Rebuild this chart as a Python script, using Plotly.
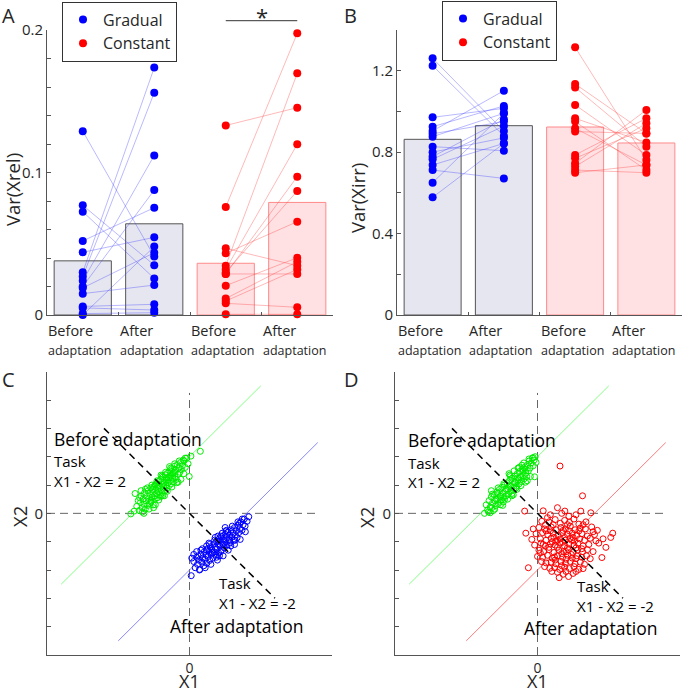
import plotly.graph_objects as go

# ---------------- data: panels A and B ----------------
categories = [1, 2, 3, 4]
cat_top = ["Before", "After", "Before", "After"]
cat_bottom = ["adaptation", "adaptation", "adaptation", "adaptation"]

# Var(Xrel)
grad_before_A = [0.129, 0.077, 0.0725, 0.052, 0.044, 0.030, 0.027, 0.024, 0.020, 0.019, 0.015, 0.006, 0.005, 0.001, 0.000]
grad_after_A = [0.041, 0.035, 0.0257, 0.0753, 0.0545, 0.1736, 0.156, 0.112, 0.0877, 0.0437, 0.021, 0.0075, 0.0035, 0.0016, 0.048]
const_before_A = [0.133, 0.0758, 0.0468, 0.0433, 0.0346, 0.032, 0.0288, 0.030, 0.0206, 0.0115, 0.0098, 0.0082, 0.0005, 0.0288]
const_after_A = [0.1455, 0.1977, 0.0346, 0.0655, 0.1696, 0.1198, 0.0971, 0.087, 0.0402, 0.0374, 0.0320, 0.0054, 0.0005, 0.0288]
bar_A = [0.038, 0.064, 0.0363, 0.079]

# Var(Xirr)
grad_before_B = [1.261, 1.225, 0.971, 0.925, 0.904, 0.876, 0.827, 0.778, 0.765, 0.737, 0.712, 0.650, 0.578, 0.890, 0.800]
grad_after_B = [0.904, 0.879, 1.015, 1.027, 1.102, 0.991, 0.807, 0.961, 0.928, 0.843, 0.671, 0.991, 0.843, 0.950, 0.870]
const_before_B = [1.315, 1.135, 1.118, 1.032, 0.966, 0.950, 0.917, 0.901, 0.786, 0.770, 0.745, 0.729, 0.712, 0.699]
const_after_B = [0.761, 0.892, 0.827, 0.786, 0.847, 0.712, 0.737, 0.892, 0.966, 0.917, 1.007, 0.942, 0.699, 0.737]
bar_B = [0.863, 0.930, 0.9235, 0.845]

# ---------------- data: panels C and D ----------------
green_C = [(-2.06, -0.02), (-1.94, 0.08), (-1.91, 0.70), (-1.85, 0.25), (-1.80, 0.45), (-1.76, 0.10), (-1.72, 0.38),
           (-1.70, 0.62), (-1.66, 0.20), (-1.63, 0.50), (-1.60, 0.32), (-1.58, 0.72), (-1.55, 0.15), (-1.52, 0.44),
           (-1.50, 0.60), (-1.47, 0.28), (-1.45, 0.80), (-1.43, 0.52), (-1.40, 0.36), (-1.38, 0.66), (-1.36, 0.90),
           (-1.34, 0.45), (-1.31, 0.58), (-1.29, 0.74), (-1.27, 0.30), (-1.25, 0.95), (-1.23, 0.62), (-1.21, 0.50),
           (-1.19, 0.82), (-1.17, 1.05), (-1.15, 0.70), (-1.13, 0.55), (-1.11, 0.88), (-1.09, 1.12), (-1.07, 0.76),
           (-1.05, 0.98), (-1.03, 0.64), (-1.01, 1.20), (-0.99, 0.85), (-0.97, 1.02), (-0.95, 0.72), (-0.93, 1.28),
           (-0.91, 0.94), (-0.89, 1.10), (-0.87, 0.80), (-0.85, 1.36), (-0.83, 1.00), (-0.81, 1.18), (-0.79, 0.90),
           (-0.77, 1.42), (-0.75, 1.08), (-0.73, 1.26), (-0.71, 0.98), (-0.69, 1.50), (-0.67, 1.16), (-0.65, 1.34),
           (-0.63, 1.05), (-0.61, 1.58), (-0.59, 1.24), (-0.57, 1.44), (-0.55, 1.12), (-0.53, 1.66), (-0.51, 1.30),
           (-0.49, 1.52), (-0.46, 1.20), (-0.43, 1.72), (-0.40, 1.38), (-0.37, 1.60), (-0.34, 1.45), (-0.31, 1.80),
           (-0.28, 1.55), (-0.25, 1.68), (-0.22, 1.88), (-0.19, 1.85), (-0.15, 1.62), (-0.10, 1.95), (-0.05, 1.75),
           (-0.01, 1.30), (0.05, 2.02), (0.38, 2.19), (-1.20, 1.00), (-1.00, 0.60), (-0.80, 1.25), (-1.35, 0.40),
           (-0.60, 1.40), (-1.10, 0.95), (-0.90, 1.05), (-0.70, 1.30), (-1.30, 0.85), (-0.50, 1.45),
           (-1.75, 0.55), (-1.65, 0.05), (-1.48, 0.90), (-1.42, 0.15), (-1.32, 1.00), (-1.26, 0.20), (-1.14, 1.15),
           (-1.08, 0.47), (-0.96, 1.32), (-0.94, 0.62), (-0.84, 1.45), (-0.78, 0.78), (-0.66, 1.60), (-0.62, 0.93),
           (-0.52, 1.75), (-0.45, 1.08), (-0.36, 1.85), (-0.30, 1.20), (-0.20, 1.40), (-1.55, 0.85), (-1.70, 0.80),
           (-1.00, 1.35), (-0.70, 1.65), (-1.20, 0.30), (-0.88, 0.62), (-0.40, 1.10), (-1.60, 0.00), (-0.15, 1.95)]

blue_C = [(0.06, -2.20), (0.08, -1.58), (0.15, -1.70), (0.20, -1.92), (0.25, -1.55), (0.28, -1.80), (0.32, -1.65),
          (0.36, -1.98), (0.40, -1.45), (0.43, -1.72), (0.46, -1.58), (0.50, -1.85), (0.52, -1.35), (0.55, -1.62),
          (0.58, -1.48), (0.61, -1.76), (0.63, -1.25), (0.66, -1.52), (0.69, -1.38), (0.71, -1.66), (0.74, -1.18),
          (0.77, -1.44), (0.79, -1.30), (0.82, -1.58), (0.85, -1.08), (0.87, -1.36), (0.90, -1.20), (0.92, -1.48),
          (0.95, -0.98), (0.97, -1.26), (1.00, -1.10), (1.02, -1.40), (1.04, -0.90), (1.07, -1.16), (1.09, -1.02),
          (1.12, -1.30), (1.14, -0.82), (1.17, -1.08), (1.19, -0.94), (1.22, -1.22), (1.25, -0.74), (1.27, -1.00),
          (1.30, -0.86), (1.32, -1.12), (1.35, -0.66), (1.38, -0.92), (1.40, -0.78), (1.43, -1.04), (1.46, -0.58),
          (1.49, -0.84), (1.52, -0.70), (1.55, -0.95), (1.58, -0.50), (1.61, -0.76), (1.64, -0.62), (1.67, -0.86),
          (1.70, -0.42), (1.73, -0.68), (1.76, -0.54), (1.80, -0.30), (1.84, -0.60), (1.88, -0.40), (1.92, -0.20),
          (1.96, -0.65), (2.02, -0.28), (2.08, -0.12), (0.90, -0.85), (1.10, -1.35), (0.70, -1.10), (1.30, -0.60),
          (1.00, -0.80), (0.80, -1.40), (1.20, -1.10), (0.60, -1.30), (1.40, -0.95), (1.15, -0.70), (0.95, -1.55),
          (1.60, -0.95), (0.40, -1.30), (1.75, -0.35),
          (0.25, -1.35), (0.35, -2.00), (0.45, -1.25), (0.55, -1.92), (0.68, -1.05), (0.75, -1.80), (0.88, -0.95),
          (0.98, -1.65), (1.10, -0.80), (1.18, -1.50), (1.28, -0.62), (1.36, -1.30), (1.50, -0.45), (1.58, -1.10),
          (1.70, -0.30), (1.78, -0.92), (1.85, -0.20), (1.95, -0.45), (0.30, -1.50), (0.60, -1.15), (1.05, -1.50),
          (1.45, -1.15), (0.15, -1.45), (1.25, -0.50)]

green_D = [(-1.86, 0.00), (-1.80, 0.30), (-1.75, 0.12), (-1.70, 0.45), (-1.66, 0.22), (-1.62, 0.58), (-1.58, 0.36),
           (-1.55, 0.10), (-1.52, 0.66), (-1.49, 0.44), (-1.46, 0.28), (-1.43, 0.75), (-1.40, 0.52), (-1.37, 0.35),
           (-1.34, 0.84), (-1.31, 0.60), (-1.28, 0.46), (-1.25, 0.92), (-1.22, 0.70), (-1.19, 0.55), (-1.16, 1.00),
           (-1.13, 0.78), (-1.10, 0.62), (-1.07, 1.08), (-1.04, 0.86), (-1.01, 0.70), (-0.98, 1.16), (-0.95, 0.94),
           (-0.92, 0.80), (-0.89, 1.24), (-0.86, 1.02), (-0.83, 0.88), (-0.80, 1.32), (-0.77, 1.10), (-0.74, 0.96),
           (-0.71, 1.40), (-0.68, 1.18), (-0.65, 1.04), (-0.62, 1.48), (-0.59, 1.26), (-0.56, 1.12), (-0.53, 1.56),
           (-0.50, 1.34), (-0.47, 1.22), (-0.44, 1.64), (-0.41, 1.42), (-0.38, 1.30), (-0.35, 1.72), (-0.32, 1.50),
           (-0.29, 1.85), (-0.26, 1.60), (-0.22, 1.78), (-0.18, 1.95), (-0.15, 1.68), (-0.12, 1.88), (-0.10, 1.29),
           (-0.08, 2.00), (-0.05, 1.80), (-0.15, 1.97), (-1.20, 0.40), (-1.00, 1.00), (-0.80, 1.10), (-1.40, 0.70),
           (-0.60, 1.30), (-1.10, 0.85), (-0.90, 0.70), (-0.70, 1.25), (-1.30, 0.60), (-0.50, 1.50), (-1.60, 0.20),
           (-0.95, 1.30), (-1.15, 0.50), (-0.40, 1.55), (-1.45, 0.50), (-0.75, 0.90), (-0.55, 1.70),
           (-1.72, 0.05), (-1.58, 0.68), (-1.50, 0.15), (-1.38, 0.90), (-1.30, 0.30), (-1.18, 1.05), (-1.05, 0.50),
           (-0.97, 1.35), (-0.90, 0.62), (-0.82, 1.50), (-0.72, 0.85), (-0.64, 1.62), (-0.58, 0.98), (-0.48, 1.78),
           (-0.42, 1.10), (-0.30, 1.92), (-0.25, 1.30), (-1.62, 0.80), (-1.00, 1.40), (-0.68, 1.60), (-1.22, 0.28),
           (-0.85, 0.65), (-0.36, 1.15), (-1.66, 0.02)]

red_D = [(0.20, 0.09), (0.70, 0.20), (0.96, 0.08), (1.52, 0.08), (1.87, 0.02), (-0.45, 0.08), (0.45, -0.05),
         (1.10, -0.10), (0.85, 0.00), (0.79, 1.67), (1.58, 0.62),
         (0.15, -0.28), (0.40, -0.30), (0.62, -0.22), (0.80, -0.35), (0.95, -0.25), (1.12, -0.32), (1.28, -0.20),
         (1.45, -0.38), (1.70, -0.30), (0.28, -0.40),
         (0.05, -0.50), (0.25, -0.55), (0.48, -0.48), (0.66, -0.58), (0.82, -0.50), (0.98, -0.55), (1.15, -0.45),
         (1.32, -0.58), (1.50, -0.52), (1.68, -0.55), (1.90, -0.48), (2.10, -0.60),
         (-0.41, -0.70), (-0.05, -0.72), (0.18, -0.68), (0.36, -0.75), (0.55, -0.70), (0.72, -0.78), (0.88, -0.68),
         (1.05, -0.74), (1.22, -0.70), (1.38, -0.78), (1.55, -0.72), (1.75, -0.80), (2.00, -0.75), (2.64, -0.70),
         (2.57, -0.85), (0.45, -0.62), (1.12, -0.62), (0.95, -0.85),
         (-0.20, -0.92), (0.10, -0.90), (0.30, -0.95), (0.48, -0.88), (0.65, -0.98), (0.80, -0.90), (0.98, -0.95),
         (1.15, -0.88), (1.30, -0.98), (1.48, -0.90), (1.65, -0.95), (1.85, -0.88), (2.05, -0.97), (0.58, -0.85),
         (1.25, -0.85), (0.88, -1.02),
         (-0.10, -1.12), (0.12, -1.05), (0.28, -1.15), (0.45, -1.08), (0.62, -1.12), (0.78, -1.05), (0.95, -1.15),
         (1.10, -1.08), (1.28, -1.12), (1.42, -1.05), (1.60, -1.15), (1.80, -1.10), (2.15, -1.05), (0.70, -1.20),
         (1.05, -1.22), (1.35, -1.22), (0.52, -1.00),
         (0.05, -1.30), (0.22, -1.35), (0.40, -1.28), (0.58, -1.38), (0.75, -1.30), (0.92, -1.35), (1.08, -1.28),
         (1.25, -1.38), (1.40, -1.30), (1.58, -1.35), (1.75, -1.28), (1.95, -1.35), (0.85, -1.42), (1.18, -1.45),
         (0.00, -1.52), (0.18, -1.55), (0.35, -1.48), (0.52, -1.58), (0.70, -1.50), (0.88, -1.55), (1.05, -1.48),
         (1.22, -1.58), (1.38, -1.50), (1.55, -1.55), (1.72, -1.50), (2.26, -1.56), (0.62, -1.65), (1.00, -1.62),
         (0.14, -1.70), (0.30, -1.75), (0.48, -1.72), (0.65, -1.78), (0.82, -1.70), (0.98, -1.76), (1.15, -1.70),
         (1.32, -1.78), (1.50, -1.72), (1.65, -1.80),
         (-0.32, -1.92), (0.43, -1.94), (0.25, -1.88), (0.60, -1.92), (0.78, -1.98), (0.95, -1.90), (1.12, -1.95),
         (1.28, -1.88), (1.45, -1.98), (0.70, -2.08), (1.00, -2.05),
         (0.76, -2.27), (1.09, -2.23), (0.90, -2.15), (1.25, -2.12),
         (0.55, -0.40), (0.90, -0.60), (1.20, -0.95), (0.70, -0.95), (1.00, -1.35), (1.35, -1.60), (0.40, -1.20),
         (0.85, -1.85), (1.55, -1.25), (0.30, -0.62), (1.05, -0.40), (0.60, -1.55), (1.45, -0.62), (0.20, -1.10),
         (0.35, -0.15), (1.35, -0.05), (1.60, -0.40), (1.95, -0.65), (2.30, -0.90), (1.85, -1.60), (1.60, -1.95),
         (0.10, -1.40), (-0.15, -0.55), (0.50, -2.05), (1.35, -2.05), (2.40, -1.20)]

# task lines (endpoints)
before_task_x = [-4.5, 2.5]
before_task_y = [-2.5, 4.5]
after_task_x = [-2.5, 4.5]
after_task_y = [-4.5, 2.5]
diag_x = [-3, 3]
diag_y = [3, -3]
vref_x = [0, 0]
vref_y = [-5, 4.25]
href_x = [-5, 4.5]
href_y = [0, 0]

FONT = "Open Sans"
TXT = "#262626"
AX = "#555555"
BLUE = "#0000ff"
RED = "#ff0000"
GREEN = "#00ee00"

W, H = 685, 689


def px(xp):
    return xp / W


def py(yp):
    return 1 - yp / H


fig = go.Figure()


def pair_lines(before, after, xb, xa):
    xs, ys = [], []
    for b, a in zip(before, after):
        xs += [xb, xa, None]
        ys += [b, a, None]
    return xs, ys


def add_bar_panel(xa, ya, gb, ga, cb, ca, bars, legend):
    fig.add_trace(go.Bar(x=categories[:2], y=bars[:2], width=0.8, xaxis=xa, yaxis=ya,
                         marker=dict(color="#e6e6f0", line=dict(color="#555555", width=1)),
                         showlegend=False, hoverinfo="skip"))
    fig.add_trace(go.Bar(x=categories[2:], y=bars[2:], width=0.8, xaxis=xa, yaxis=ya,
                         marker=dict(color="#ffe1e4", line=dict(color="#ff8a8a", width=1)),
                         showlegend=False, hoverinfo="skip"))
    lx, ly = pair_lines(gb, ga, categories[0], categories[1])
    fig.add_trace(go.Scatter(x=lx, y=ly, mode="lines", xaxis=xa, yaxis=ya,
                             line=dict(color="rgba(60,60,255,0.45)", width=0.8), showlegend=False))
    lx, ly = pair_lines(cb, ca, categories[2], categories[3])
    fig.add_trace(go.Scatter(x=lx, y=ly, mode="lines", xaxis=xa, yaxis=ya,
                             line=dict(color="rgba(255,60,60,0.45)", width=0.8), showlegend=False))
    fig.add_trace(go.Scatter(x=[categories[0]] * len(gb) + [categories[1]] * len(ga), y=gb + ga,
                             mode="markers", xaxis=xa, yaxis=ya, name="Gradual", legend=legend,
                             marker=dict(color=BLUE, size=8), cliponaxis=False))
    fig.add_trace(go.Scatter(x=[categories[2]] * len(cb) + [categories[3]] * len(ca), y=cb + ca,
                             mode="markers", xaxis=xa, yaxis=ya, name="Constant", legend=legend,
                             marker=dict(color=RED, size=8), cliponaxis=False))


add_bar_panel("x", "y", grad_before_A, grad_after_A, const_before_A, const_after_A, bar_A, "legend")
add_bar_panel("x2", "y2", grad_before_B, grad_after_B, const_before_B, const_after_B, bar_B, "legend2")


def add_task_panel(xa, ya, first_pts, second_pts, second_color, second_line_color):
    fig.add_trace(go.Scatter(x=vref_x, y=vref_y, mode="lines", xaxis=xa, yaxis=ya, showlegend=False,
                             line=dict(color="#666666", width=1, dash="8px,5px")))
    fig.add_trace(go.Scatter(x=href_x, y=href_y, mode="lines", xaxis=xa, yaxis=ya, showlegend=False,
                             line=dict(color="#666666", width=1, dash="8px,5px")))
    fig.add_trace(go.Scatter(x=before_task_x, y=before_task_y, mode="lines", xaxis=xa, yaxis=ya,
                             showlegend=False, line=dict(color="#66ff66", width=0.8)))
    fig.add_trace(go.Scatter(x=after_task_x, y=after_task_y, mode="lines", xaxis=xa, yaxis=ya,
                             showlegend=False, line=dict(color=second_line_color, width=0.8)))
    fig.add_trace(go.Scatter(x=[p[0] for p in first_pts], y=[p[1] for p in first_pts], mode="markers",
                             xaxis=xa, yaxis=ya, showlegend=False,
                             marker=dict(symbol="circle-open", size=6, color=GREEN, line=dict(width=1))))
    fig.add_trace(go.Scatter(x=[p[0] for p in second_pts], y=[p[1] for p in second_pts], mode="markers",
                             xaxis=xa, yaxis=ya, showlegend=False,
                             marker=dict(symbol="circle-open", size=6, color=second_color, line=dict(width=1))))
    fig.add_trace(go.Scatter(x=diag_x, y=diag_y, mode="lines", xaxis=xa, yaxis=ya, showlegend=False,
                             line=dict(color="black", width=1.5, dash="7px,5px")))


add_task_panel("x3", "y3", green_C, blue_C, BLUE, "#6a6aff")
add_task_panel("x4", "y4", green_D, red_D, RED, "#ff5a5a")

bar_x = dict(range=[0.5, 4.5], showline=True, linecolor=AX, linewidth=1, tickmode="array",
             tickvals=[1.5, 2.5, 3.5], ticktext=["", "", ""], ticks="inside", ticklen=3, tickcolor=AX,
             showgrid=False, zeroline=False, fixedrange=True)
task_common = dict(range=[-5, 5], showline=True, linecolor=AX, linewidth=1, showgrid=False, zeroline=False)

fig.update_layout(
    width=W, height=H, margin=dict(l=0, r=0, t=0, b=0, autoexpand=False),
    plot_bgcolor="white", paper_bgcolor="white",
    font=dict(family=FONT, color=TXT),
    barmode="overlay",
    xaxis=dict(domain=[px(47), px(333)], anchor="y", **bar_x),
    yaxis=dict(domain=[py(315), py(30)], anchor="x", range=[0, 0.2], showline=True, linecolor=AX,
               linewidth=1, tickvals=[0, 0.02, 0.04, 0.06, 0.08, 0.1, 0.12, 0.14, 0.16, 0.18, 0.2],
               ticktext=["0", "", "", "", "", "0.1", "", "", "", "", "0.2"], ticks="inside", ticklen=4,
               tickcolor=AX, showgrid=False, zeroline=False, tickfont=dict(size=15, color=TXT)),
    xaxis2=dict(domain=[px(397), px(682)], anchor="y2", **bar_x),
    yaxis2=dict(domain=[py(315), py(30)], anchor="x2", range=[0, 1.4], showline=True, linecolor=AX,
                linewidth=1, tickvals=[0, 0.2, 0.4, 0.6, 0.8, 1.0, 1.2, 1.4],
                ticktext=["0", "", "0.4", "", "0.8", "", "1.2", ""], ticks="inside", ticklen=4,
                tickcolor=AX, showgrid=False, zeroline=False, tickfont=dict(size=15, color=TXT)),
    xaxis3=dict(domain=[px(47), px(332)], anchor="y3", tickvals=[0], ticktext=["0"], ticks="",
                tickfont=dict(size=14, color=TXT), **task_common),
    yaxis3=dict(domain=[py(655), py(371.7)], anchor="x3", tickvals=[-4, -3, -2, -1, 0, 1, 2, 3, 4],
                ticktext=["", "", "", "", "0", "", "", "", ""], ticks="inside", ticklen=4, tickcolor=AX,
                tickfont=dict(size=15, color=TXT), **task_common),
    xaxis4=dict(domain=[px(395), px(680)], anchor="y4", tickvals=[0], ticktext=["0"], ticks="",
                tickfont=dict(size=14, color=TXT), **task_common),
    yaxis4=dict(domain=[py(655), py(371.7)], anchor="x4", tickvals=[-4, -3, -2, -1, 0, 1, 2, 3, 4],
                ticktext=["", "", "", "", "0", "", "", "", ""], ticks="inside", ticklen=4, tickcolor=AX,
                tickfont=dict(size=15, color=TXT), **task_common),
    legend=dict(x=px(62), y=py(1.5), xanchor="left", yanchor="top", bordercolor="#333333", borderwidth=1,
                bgcolor="white", font=dict(size=16, color=TXT), tracegroupgap=0),
    legend2=dict(x=px(442), y=py(0.5), xanchor="left", yanchor="top", bordercolor="#333333", borderwidth=1,
                 bgcolor="white", font=dict(size=16, color=TXT), tracegroupgap=0),
)

ann = []
# panel letters
for letter, xp, yp in [("A", 0, 0.5), ("B", 342, 0.5), ("C", 0, 364), ("D", 342, 364)]:
    ann.append(dict(text=letter, xref="paper", yref="paper", x=px(xp), y=py(yp), xanchor="left",
                    yanchor="top", showarrow=False, font=dict(size=20, color=TXT)))
# axis titles
for t, xp, yp, ang in [("Var(Xrel)", 12, 190, -90), ("Var(Xirr)", 357, 198, -90),
                       ("X2", 19, 517, -90), ("X2", 366, 517, -90)]:
    ann.append(dict(text=t, xref="paper", yref="paper", x=px(xp), y=py(yp), textangle=ang,
                    xanchor="center", yanchor="middle", showarrow=False, font=dict(size=18.5, color=TXT)))
for xp in [189, 537.7]:
    ann.append(dict(text="X1", xref="paper", yref="paper", x=px(xp), y=py(680.5), xanchor="center",
                    yanchor="middle", showarrow=False, font=dict(size=18, color=TXT)))
# category labels
for xa in ["x", "x2"]:
    for c, t, b in zip(categories, cat_top, cat_bottom):
        ann.append(dict(text=f"{t}<br><span style='font-size:12.5px'>{b}</span>", xref=xa, yref="paper",
                        x=c, y=py(319), xanchor="center", yanchor="top", align="left", xshift=-3,
                        showarrow=False, font=dict(size=14.5, color=TXT)))
# significance
fig.add_shape(type="line", xref="x", yref="paper", x0=3, x1=4, y0=py(20.7), y1=py(20.7),
              line=dict(color="#333333", width=1))
ann.append(dict(text="*", xref="x", yref="paper", x=3.5, y=py(16), xanchor="center", yanchor="middle",
                showarrow=False, font=dict(size=22, color=TXT)))
# task texts
task_texts = [
    ("x3", "y3", "Before adaptation", -4.83, 2.62, 17.5),
    ("x3", "y3", "Task", -4.83, 1.86, 15),
    ("x3", "y3", "X1 - X2 = 2", -4.83, 1.14, 15),
    ("x3", "y3", "Task", 0.96, -2.47, 15),
    ("x3", "y3", "X1 - X2 = -2", 0.96, -3.18, 15),
    ("x3", "y3", "After adaptation", -0.74, -3.99, 17.5),
    ("x4", "y4", "Before adaptation", -4.61, 2.59, 17.5),
    ("x4", "y4", "Task", -4.61, 1.79, 15),
    ("x4", "y4", "X1 - X2 = 2", -4.61, 1.10, 15),
    ("x4", "y4", "Task", 1.31, -2.58, 15),
    ("x4", "y4", "X1 - X2 = -2", 1.31, -3.28, 15),
    ("x4", "y4", "After adaptation", -0.53, -4.06, 17.5),
]
for xa, ya, t, x, y, s in task_texts:
    ann.append(dict(text=t, xref=xa, yref=ya, x=x, y=y, xanchor="left", yanchor="middle",
                    showarrow=False, font=dict(size=s, color="black")))

fig.update_layout(annotations=ann)
fig.write_html("out.html", config={"displayModeBar": False},
               post_script="document.body.style.margin='0px';document.body.style.padding='0px';")
